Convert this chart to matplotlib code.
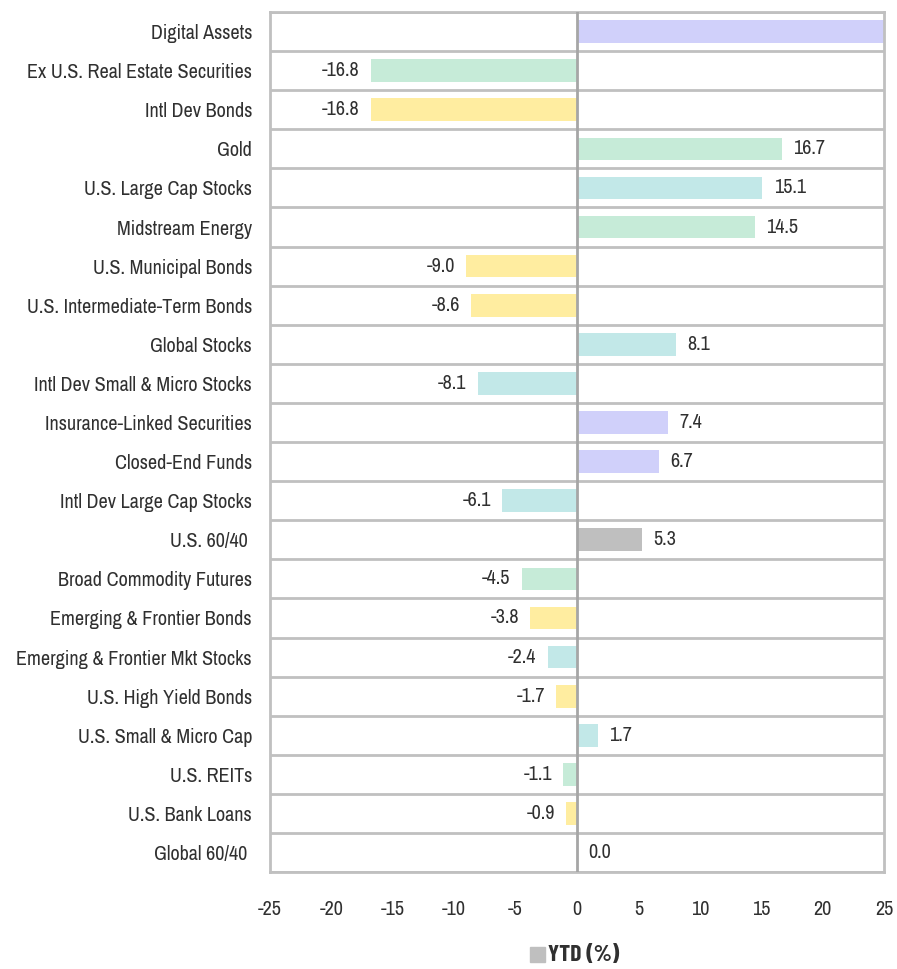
import matplotlib
matplotlib.use("Agg")
import matplotlib.pyplot as plt
from matplotlib.patches import Rectangle

plt.rcParams["font.family"] = ["Archivo Narrow", "Liberation Sans", "DejaVu Sans"]
plt.rcParams["axes.unicode_minus"] = False

categories = [
    "Digital Assets", "Ex U.S. Real Estate Securities", "Intl Dev Bonds", "Gold",
    "U.S. Large Cap Stocks", "Midstream Energy", "U.S. Municipal Bonds",
    "U.S. Intermediate-Term Bonds", "Global Stocks", "Intl Dev Small & Micro Stocks",
    "Insurance-Linked Securities", "Closed-End Funds", "Intl Dev Large Cap Stocks",
    "U.S. 60/40 ", "Broad Commodity Futures", "Emerging & Frontier Bonds",
    "Emerging & Frontier Mkt Stocks", "U.S. High Yield Bonds", "U.S. Small & Micro Cap",
    "U.S. REITs", "U.S. Bank Loans", "Global 60/40 ",
]
# Digital Assets runs off the right edge of the axis; its value is not shown
ytd = [38.0, -16.8, -16.8, 16.7, 15.1, 14.5, -9.0, -8.6, 8.1, -8.1, 7.4, 6.7,
       -6.1, 5.3, -4.5, -3.8, -2.4, -1.7, 1.7, -1.1, -0.9, 0.0]
groups = ["alt", "re", "bond", "re", "eq", "re", "bond", "bond", "eq", "eq", "alt", "alt",
          "eq", "mix", "re", "bond", "eq", "bond", "eq", "re", "bond", "mix"]

palette = {"alt": "#d0d0fa", "re": "#c6ebd8", "bond": "#ffeda0",
           "eq": "#c2e8e8", "mix": "#bfbfbf"}
grid_col = "#c0c0c0"
text_col = "#303030"
fs = 14.5

fig = plt.figure(figsize=(8.97, 9.69), dpi=100)
ax = fig.add_axes([0.301, 0.100, 0.6845, 0.8876])

y = list(range(len(categories)))
colors = [palette[g] for g in groups]
ax.barh(y, ytd, height=0.58, color=colors, zorder=2)

for yi, v in zip(y, ytd):
    if v > 25:
        continue
    if v < 0:
        ax.annotate(f"{v:.1f}", (v, yi), xytext=(-8, 0), textcoords="offset points",
                    ha="right", va="center", fontsize=fs, color=text_col)
    else:
        ax.annotate(f"{v:.1f}", (v, yi), xytext=(8, 0), textcoords="offset points",
                    ha="left", va="center", fontsize=fs, color=text_col)

ax.set_xlim(-25, 25)
ax.set_ylim(len(categories) - 0.5, -0.5)
ax.set_xticks(range(-25, 26, 5))
ax.set_yticks(y)
ax.set_yticklabels(categories, fontsize=fs, color=text_col)

for b in range(len(categories) + 1):
    ax.axhline(b - 0.5, color=grid_col, lw=2, zorder=1)
ax.axvline(0, color="#a6a6a6", lw=2, zorder=3)

for s in ax.spines.values():
    s.set_color(grid_col)
    s.set_linewidth(2)

ax.tick_params(axis="y", length=0, pad=13)
ax.tick_params(axis="x", length=0, pad=20, labelsize=fs, labelcolor=text_col)

fig.patches.append(Rectangle((0.591, 0.0072), 0.0167, 0.0155, transform=fig.transFigure,
                             color="#bfbfbf"))
fig.text(0.611, 0.0148, "YTD (%)", fontsize=17, fontweight="bold", va="center", ha="left",
         color=text_col, family=["Barlow Condensed", "Liberation Sans", "DejaVu Sans"])

fig.savefig("out.png", dpi=100)
